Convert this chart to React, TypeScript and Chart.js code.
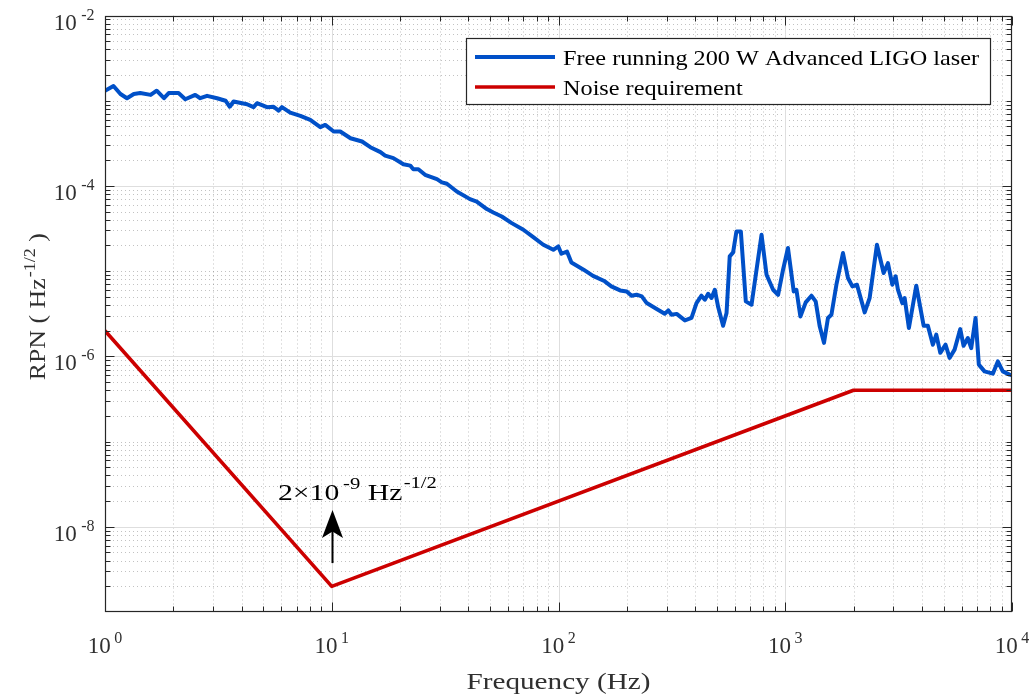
import React, { useEffect, useRef } from "react";
import { Chart, registerables } from "chart.js";

Chart.register(...registerables);

// ---------------- data ----------------
const laserFreq = [
  1.0, 1.09, 1.17, 1.25, 1.34, 1.43, 1.59, 1.69, 1.82, 1.91, 2.11, 2.26, 2.5, 2.63, 2.82, 3.12, 3.4, 3.55, 3.69, 4.23,
  4.52, 4.68, 5.18, 5.54, 5.83, 6.03, 6.56, 7.27, 8.04, 8.9, 9.36, 10.2, 10.9, 12.1, 13.6, 14.8, 16.4, 17.2, 18.7, 20.7,
  22.2, 22.9, 24.1, 25.8, 29.1, 30.6, 32.2, 35.6, 40.7, 43.6, 48.3, 51.6, 56.2, 62.2, 70.0, 77.4, 85.7, 94.9, 99.8, 103,
  109, 114, 129, 142, 160, 171, 187, 200, 210, 221, 233, 245, 271, 294, 305, 315, 332, 361, 386, 406,
  427, 442, 457, 473, 489, 506, 532, 551, 569, 589, 609, 637, 670, 710, 747, 786, 827, 884, 930, 978,
  1028, 1090, 1120, 1166, 1231, 1305, 1362, 1419, 1482, 1543, 1598, 1681, 1797, 1891, 1977, 2072, 2240, 2356, 2537, 2716,
  2837, 2966, 3068, 3140, 3283, 3362, 3510, 3783, 4076, 4256, 4477, 4636, 4828, 5094, 5305, 5582, 5914, 6115, 6387, 6610,
  6906, 7140, 7566, 8230, 8660, 9110, 9750, 10000,
];
const laserRpn = [
  1.31e-3, 1.49e-3, 1.2e-3, 1.07e-3, 1.2e-3, 1.23e-3, 1.17e-3, 1.31e-3, 1.07e-3, 1.23e-3, 1.23e-3, 1.04e-3, 1.17e-3, 1.07e-3, 1.14e-3, 1.07e-3, 1.0e-3, 8.5e-4, 9.8e-4, 9.1e-4,
  8.4e-4, 9.35e-4, 8.4e-4, 8.5e-4, 7.65e-4, 8.4e-4, 7.25e-4, 6.64e-4, 5.96e-4, 4.89e-4, 5.2e-4, 4.35e-4, 4.35e-4, 3.63e-4, 3.32e-4, 2.85e-4, 2.49e-4, 2.27e-4, 2.12e-4, 1.8e-4,
  1.73e-4, 1.57e-4, 1.57e-4, 1.35e-4, 1.2e-4, 1.1e-4, 1.06e-4, 8.6e-5, 7.0e-5, 6.56e-5, 5.35e-5, 4.88e-5, 4.38e-5, 3.66e-5, 3.06e-5, 2.51e-5, 2.04e-5, 1.78e-5, 1.95e-5, 1.6e-5,
  1.7e-5, 1.26e-5, 1.04e-5, 8.8e-6, 7.6e-6, 6.62e-6, 5.94e-6, 5.78e-6, 5.15e-6, 5.29e-6, 5.05e-6, 4.22e-6, 3.6e-6, 3.17e-6, 3.46e-6, 3.08e-6, 3.15e-6, 2.64e-6, 2.82e-6, 4.22e-6,
  5.15e-6, 4.62e-6, 5.43e-6, 4.84e-6, 6.05e-6, 3.79e-6, 2.29e-6, 3.23e-6, 1.49e-5, 1.66e-5, 2.92e-5, 2.92e-5, 4.42e-6, 4.04e-6, 1.04e-5, 2.67e-5, 9.08e-6, 6.05e-6, 5.28e-6, 1.04e-5,
  1.87e-5, 5.78e-6, 6.05e-6, 2.94e-6, 4.3e-6, 5.15e-6, 4.42e-6, 2.25e-6, 1.44e-6, 2.82e-6, 3.08e-6, 6.93e-6, 1.63e-5, 8.3e-6, 6.62e-6, 6.93e-6, 3.28e-6, 4.84e-6, 2.04e-5, 9.5e-6,
  1.24e-5, 6.93e-6, 8.67e-6, 6.05e-6, 4.22e-6, 4.84e-6, 2.15e-6, 6.75e-6, 2.29e-6, 2.29e-6, 1.37e-6, 1.8e-6, 1.1e-6, 1.37e-6, 9.58e-7, 1.2e-6, 2.09e-6, 1.33e-6, 1.64e-6, 1.25e-6,
  2.82e-6, 8.0e-7, 6.67e-7, 6.27e-7, 8.73e-7, 6.67e-7, 6.1e-7, 6.0e-7,
];
const reqFreq = [1, 10, 2000, 10000];
const reqRpn = [2e-6, 2e-9, 4e-7, 4e-7];

const seriesLabels = ["Free running 200 W Advanced LIGO laser", "Noise requirement"];
const xDecades = [0, 1, 2, 3, 4];
const yDecades = [-9, -8, -7, -6, -5, -4, -3, -2];
const xLabelExps = [0, 1, 2, 3, 4];
const yLabelExps = [-8, -6, -4, -2];
const xTitle = "Frequency (Hz)";
const yTitleParts = ["RPN ( Hz", "-1/2", " )"];
const noteParts = ["2×10", "-9", " Hz", "-1/2"];
const noteAnchor = { f: 5.79, v: 2.06e-8 };
const arrowSpec = { f: 10, from: 3.75e-9, to: 1.57e-8 };

// ---------------- style ----------------
const W = 1033;
const H = 698;
const BLUE = "#0050C8";
const RED = "#CC0000";
const AXIS = "#262626";
const FONT = "'Liberation Serif', 'Times New Roman', serif";

type Run = { text: string; size: number; rise?: number; gap?: number };

function fnt(size: number) {
  return `${size}px ${FONT}`;
}
function runsWidth(ctx: CanvasRenderingContext2D, runs: Run[]) {
  let w = 0;
  for (const r of runs) {
    ctx.font = fnt(r.size);
    w += (r.gap || 0) + ctx.measureText(r.text).width;
  }
  return w;
}
function drawRuns(ctx: CanvasRenderingContext2D, runs: Run[], x: number, baseline: number, sx = 1) {
  ctx.save();
  ctx.translate(x, baseline);
  ctx.scale(sx, 1);
  ctx.textAlign = "left";
  ctx.textBaseline = "alphabetic";
  let cx = 0;
  for (const r of runs) {
    ctx.font = fnt(r.size);
    cx += r.gap || 0;
    ctx.fillText(r.text, cx, -(r.rise || 0));
    cx += ctx.measureText(r.text).width;
  }
  ctx.restore();
}

function xMinorVals() {
  const out: number[] = [];
  for (const d of xDecades.slice(0, -1)) for (let m = 2; m <= 9; m++) out.push(m * Math.pow(10, d));
  return out;
}
function yMinorVals() {
  const out: number[] = [];
  for (const d of yDecades.slice(0, -1)) {
    if (!yLabelExps.includes(d) && d !== yDecades[0]) out.push(Math.pow(10, d));
    for (let m = 2; m <= 9; m++) out.push(m * Math.pow(10, d));
  }
  return out;
}

const axesPlugin = {
  id: "matlabAxes",
  beforeDraw(chart: any) {
    const ctx = chart.ctx as CanvasRenderingContext2D;
    ctx.save();
    ctx.fillStyle = "#ffffff";
    ctx.fillRect(0, 0, chart.width, chart.height);
    ctx.restore();
  },
  beforeDatasetsDraw(chart: any) {
    const ctx = chart.ctx as CanvasRenderingContext2D;
    const a = chart.chartArea;
    const x = chart.scales.x;
    const y = chart.scales.y;
    ctx.save();
    ctx.lineWidth = 1;
    // minor grid (dotted)
    ctx.strokeStyle = "rgba(0,0,0,0.24)";
    ctx.setLineDash([1, 3]);
    ctx.beginPath();
    for (const v of xMinorVals()) {
      const px = Math.round(x.getPixelForValue(v)) + 0.5;
      ctx.moveTo(px, a.top);
      ctx.lineTo(px, a.bottom);
    }
    for (const v of yMinorVals()) {
      const py = Math.round(y.getPixelForValue(v)) + 0.5;
      ctx.moveTo(a.left, py);
      ctx.lineTo(a.right, py);
    }
    ctx.stroke();
    // major grid (solid)
    ctx.setLineDash([]);
    ctx.strokeStyle = "#dedede";
    ctx.beginPath();
    for (const d of xDecades.slice(1, -1)) {
      const px = Math.round(x.getPixelForValue(Math.pow(10, d))) + 0.5;
      ctx.moveTo(px, a.top);
      ctx.lineTo(px, a.bottom);
    }
    for (const d of yLabelExps) {
      const v = Math.pow(10, d);
      if (v >= y.max || v <= y.min) continue;
      const py = Math.round(y.getPixelForValue(v)) + 0.5;
      ctx.moveTo(a.left, py);
      ctx.lineTo(a.right, py);
    }
    ctx.stroke();
    ctx.restore();
  },
  afterDatasetsDraw(chart: any) {
    const ctx = chart.ctx as CanvasRenderingContext2D;
    const a = chart.chartArea;
    const x = chart.scales.x;
    const y = chart.scales.y;
    const L = Math.round(a.left) + 0.5;
    const R = Math.round(a.right) - 0.5;
    const T = Math.round(a.top) + 0.5;
    const B = Math.round(a.bottom) - 0.5;
    ctx.save();
    // ticks (inside, all four sides)
    ctx.strokeStyle = AXIS;
    ctx.lineWidth = 1;
    ctx.beginPath();
    const MAJ = 9;
    const MIN = 5;
    const xt = (v: number, len: number) => {
      const px = Math.round(x.getPixelForValue(v)) + 0.5;
      ctx.moveTo(px, B);
      ctx.lineTo(px, B - len);
      ctx.moveTo(px, T);
      ctx.lineTo(px, T + len);
    };
    const yt = (v: number, len: number) => {
      const py = Math.round(y.getPixelForValue(v)) + 0.5;
      ctx.moveTo(L, py);
      ctx.lineTo(L + len, py);
      ctx.moveTo(R, py);
      ctx.lineTo(R - len, py);
    };
    for (const v of xMinorVals()) xt(v, MIN);
    for (const d of xDecades) xt(Math.pow(10, d), MAJ);
    for (const v of yMinorVals()) yt(v, MIN);
    for (const d of yLabelExps) yt(Math.pow(10, d), MAJ);
    ctx.stroke();
    // box
    ctx.lineWidth = 1.2;
    ctx.strokeRect(L, T, R - L, B - T);

    // tick labels
    ctx.fillStyle = "#303030";
    for (const e of xLabelExps) {
      const runs: Run[] = [
        { text: "10", size: 23 },
        { text: String(e), size: 16, rise: 10, gap: 3.5 },
      ];
      const w = runsWidth(ctx, runs);
      const px = x.getPixelForValue(Math.pow(10, e));
      drawRuns(ctx, runs, px - w / 2, a.bottom + 41);
    }
    for (const e of yLabelExps) {
      const runs: Run[] = [
        { text: "10", size: 23 },
        { text: String(e), size: 16, rise: 10, gap: 4.5 },
      ];
      const w = runsWidth(ctx, runs);
      const py = y.getPixelForValue(Math.pow(10, e));
      drawRuns(ctx, runs, a.left - 10.5 - w, py + 14);
    }

    // axis titles
    {
      const runs: Run[] = [{ text: xTitle, size: 24 }];
      const w = runsWidth(ctx, runs);
      const target = 184;
      const cx = (a.left + a.right) / 2;
      drawRuns(ctx, runs, cx - target / 2, 689, target / w);
    }
    {
      const runs: Run[] = [
        { text: yTitleParts[0], size: 23 },
        { text: yTitleParts[1], size: 16, rise: 10, gap: 1 },
        { text: yTitleParts[2], size: 23 },
      ];
      const w = runsWidth(ctx, runs);
      const target = 147;
      const cy = (a.top + a.bottom) / 2 - 7;
      ctx.save();
      ctx.translate(45, cy + target / 2);
      ctx.rotate(-Math.PI / 2);
      drawRuns(ctx, runs, 0, 0, target / w);
      ctx.restore();
    }

    // annotation arrow
    {
      const ax = Math.round(x.getPixelForValue(arrowSpec.f)) + 0.5;
      const y0 = y.getPixelForValue(arrowSpec.from);
      const y1 = y.getPixelForValue(arrowSpec.to);
      ctx.strokeStyle = "#000";
      ctx.fillStyle = "#000";
      ctx.lineWidth = 2;
      ctx.beginPath();
      ctx.moveTo(ax, y0);
      ctx.lineTo(ax, y1 + 20);
      ctx.stroke();
      ctx.beginPath();
      ctx.moveTo(ax, y1);
      ctx.lineTo(ax + 10.5, y1 + 28);
      ctx.lineTo(ax, y1 + 21.5);
      ctx.lineTo(ax - 10.5, y1 + 28);
      ctx.closePath();
      ctx.fill();
      const runs: Run[] = [
        { text: noteParts[0], size: 23 },
        { text: noteParts[1], size: 16, rise: 11, gap: 3 },
        { text: noteParts[2], size: 23 },
        { text: noteParts[3], size: 16, rise: 12, gap: 1 },
      ];
      const w = runsWidth(ctx, runs);
      const target = 159;
      drawRuns(ctx, runs, x.getPixelForValue(noteAnchor.f), y.getPixelForValue(noteAnchor.v), target / w);
    }

    // legend
    {
      const bx = 466.5;
      const by = 38.5;
      const bw = 524;
      const bh = 66;
      ctx.fillStyle = "#ffffff";
      ctx.fillRect(bx, by, bw, bh);
      ctx.strokeStyle = AXIS;
      ctx.lineWidth = 1.2;
      ctx.strokeRect(bx, by, bw, bh);
      const ds = chart.data.datasets;
      const rowsY = [57, 87];
      const r0: Run[] = [{ text: ds[0].label, size: 21 }];
      const sx = 416 / runsWidth(ctx, r0);
      ds.forEach((d: any, i: number) => {
        ctx.strokeStyle = d.borderColor;
        ctx.lineWidth = d.borderWidth;
        ctx.beginPath();
        ctx.moveTo(475, rowsY[i]);
        ctx.lineTo(555, rowsY[i]);
        ctx.stroke();
        ctx.fillStyle = "#000";
        drawRuns(ctx, [{ text: d.label, size: 21 }], 563, rowsY[i] + 8, sx);
      });
    }
    ctx.restore();
  },
};

export default function App() {
  const ref = useRef<HTMLCanvasElement | null>(null);
  useEffect(() => {
    if (!ref.current) return;
    const chart = new Chart(ref.current, {
      type: "line",
      data: {
        datasets: [
          {
            label: seriesLabels[0],
            data: laserFreq.map((f, i) => ({ x: f, y: laserRpn[i] })),
            borderColor: BLUE,
            backgroundColor: BLUE,
            borderWidth: 4,
            pointRadius: 0,
            tension: 0,
            fill: false,
          },
          {
            label: seriesLabels[1],
            data: reqFreq.map((f, i) => ({ x: f, y: reqRpn[i] })),
            borderColor: RED,
            backgroundColor: RED,
            borderWidth: 3.6,
            pointRadius: 0,
            tension: 0,
            fill: false,
          },
        ],
      },
      options: {
        animation: false,
        responsive: false,
        maintainAspectRatio: false,
        events: [],
        layout: { padding: { left: 0, top: 15.5, right: W - 1012, bottom: 0 } },
        elements: { line: { borderJoinStyle: "round", borderCapStyle: "butt" } },
        plugins: { legend: { display: false }, tooltip: { enabled: false }, title: { display: false } },
        scales: {
          x: {
            type: "logarithmic",
            min: 1,
            max: 1e4,
            grid: { display: false },
            border: { display: false },
            ticks: { display: false },
            afterFit: (s: any) => {
              s.height = H - 612;
            },
          },
          y: {
            type: "logarithmic",
            min: 1e-9,
            max: 1e-2,
            grid: { display: false },
            border: { display: false },
            ticks: { display: false },
            afterFit: (s: any) => {
              s.width = 105;
            },
          },
        },
      } as any,
      plugins: [axesPlugin as any],
    });
    return () => chart.destroy();
  }, []);
  return (
    <div style={{ position: "absolute", left: 0, top: 0, width: W, height: H, background: "#fff" }}>
      <canvas ref={ref} width={W} height={H} style={{ display: "block", width: W, height: H }} />
    </div>
  );
}
